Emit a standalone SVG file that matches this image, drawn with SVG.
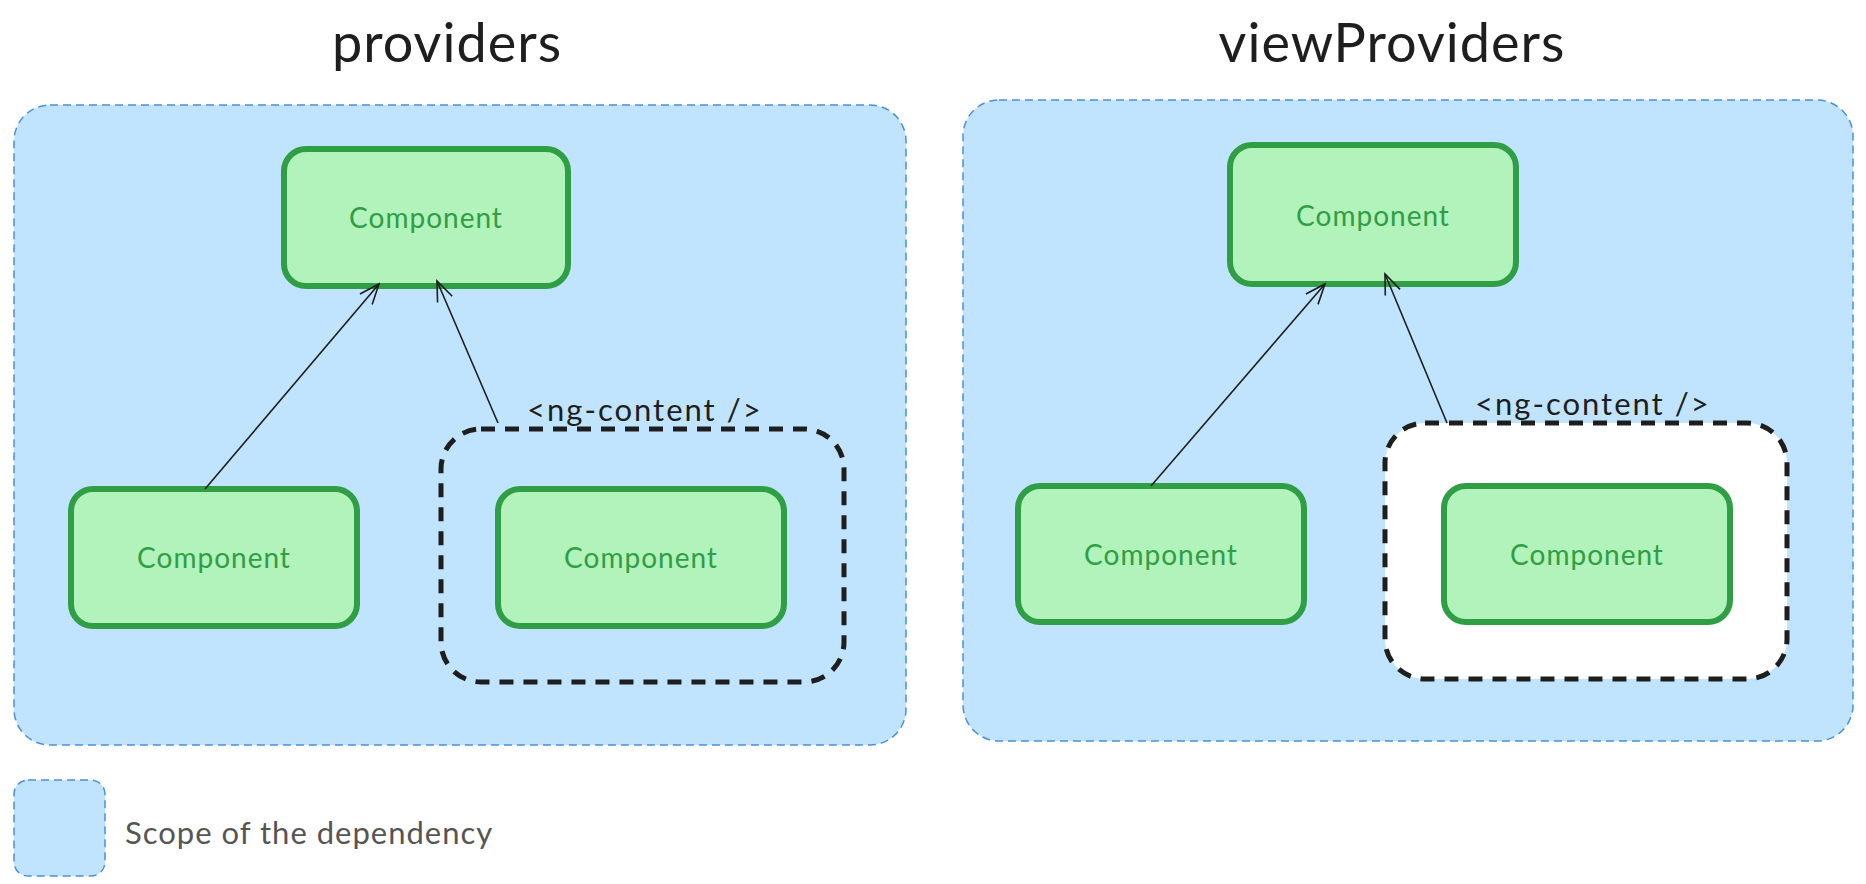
<svg xmlns="http://www.w3.org/2000/svg" width="1866" height="884" viewBox="0 0 1866 884">
<style>
.scope{fill:#c0e4fe;stroke:#4a90d9;stroke-width:1.5;stroke-dasharray:8 5}
.comp{fill:#b2f2bb;stroke:#2f9e44;stroke-width:6}
.ct{font-family:"Lato",sans-serif;font-size:28px;fill:#2f9e44;text-anchor:middle;dominant-baseline:central;letter-spacing:1px}
.ng{fill:none;stroke:#1e1e1e;stroke-width:5;stroke-dasharray:14 10}
.title{font-family:"Lato",sans-serif;font-size:54px;fill:#1e1e1e;text-anchor:middle;letter-spacing:1px}
.lbl{font-family:"Lato",sans-serif;font-size:31px;fill:#1e1e1e;letter-spacing:2px}
.arr{stroke:#1e1e1e;stroke-width:1.6;fill:none;marker-end:url(#ah)}
</style>
<defs>
<marker id="ah" markerWidth="24" markerHeight="24" refX="22" refY="12" orient="auto" markerUnits="userSpaceOnUse">
<path d="M2,4 L22,12 L2,20" fill="none" stroke="#1e1e1e" stroke-width="1.6"/>
</marker>
</defs>
<text class="title" x="447" y="62">providers</text>
<text class="title" x="1392" y="62">viewProviders</text>
<g id="scope-left"><rect class="scope" x="14" y="105" width="892" height="640" rx="36"/></g>
<g id="scope-right"><rect class="scope" x="963" y="100" width="890" height="641" rx="36"/></g>
<g id="ng-left"><rect class="ng" x="441" y="429" width="403" height="253" rx="40"/>
<text class="lbl" x="527" y="421">&lt;ng-content /&gt;</text></g>
<g id="ng-right"><rect class="ng" x="1385" y="423" width="402" height="256" rx="40" style="fill:#ffffff"/>
<text class="lbl" x="1475" y="415">&lt;ng-content /&gt;</text></g>
<g id="c1"><rect class="comp" x="284" y="149" width="284" height="137" rx="22"/><text class="ct" x="426" y="217">Component</text></g>
<g id="c2"><rect class="comp" x="71" y="489" width="286" height="137" rx="22"/><text class="ct" x="214" y="557">Component</text></g>
<g id="c3"><rect class="comp" x="498" y="489" width="286" height="137" rx="22"/><text class="ct" x="641" y="557">Component</text></g>
<g id="c4"><rect class="comp" x="1230" y="145" width="286" height="139" rx="22"/><text class="ct" x="1373" y="215">Component</text></g>
<g id="c5"><rect class="comp" x="1018" y="486" width="286" height="136" rx="22"/><text class="ct" x="1161" y="554">Component</text></g>
<g id="c6"><rect class="comp" x="1444" y="486" width="286" height="136" rx="22"/><text class="ct" x="1587" y="554">Component</text></g>
<g id="connectors">
<line class="arr" x1="205" y1="489" x2="379" y2="284"/>
<line class="arr" x1="498" y1="423" x2="437" y2="281"/>
<line class="arr" x1="1151" y1="486" x2="1325" y2="284"/>
<line class="arr" x1="1447" y1="423" x2="1385" y2="274"/>
</g>
<g id="legend"><rect class="scope" x="14" y="780" width="91" height="96" rx="14"/>
<text class="lbl" x="125" y="844" style="fill:#555;letter-spacing:1px">Scope of the dependency</text></g>
</svg>
